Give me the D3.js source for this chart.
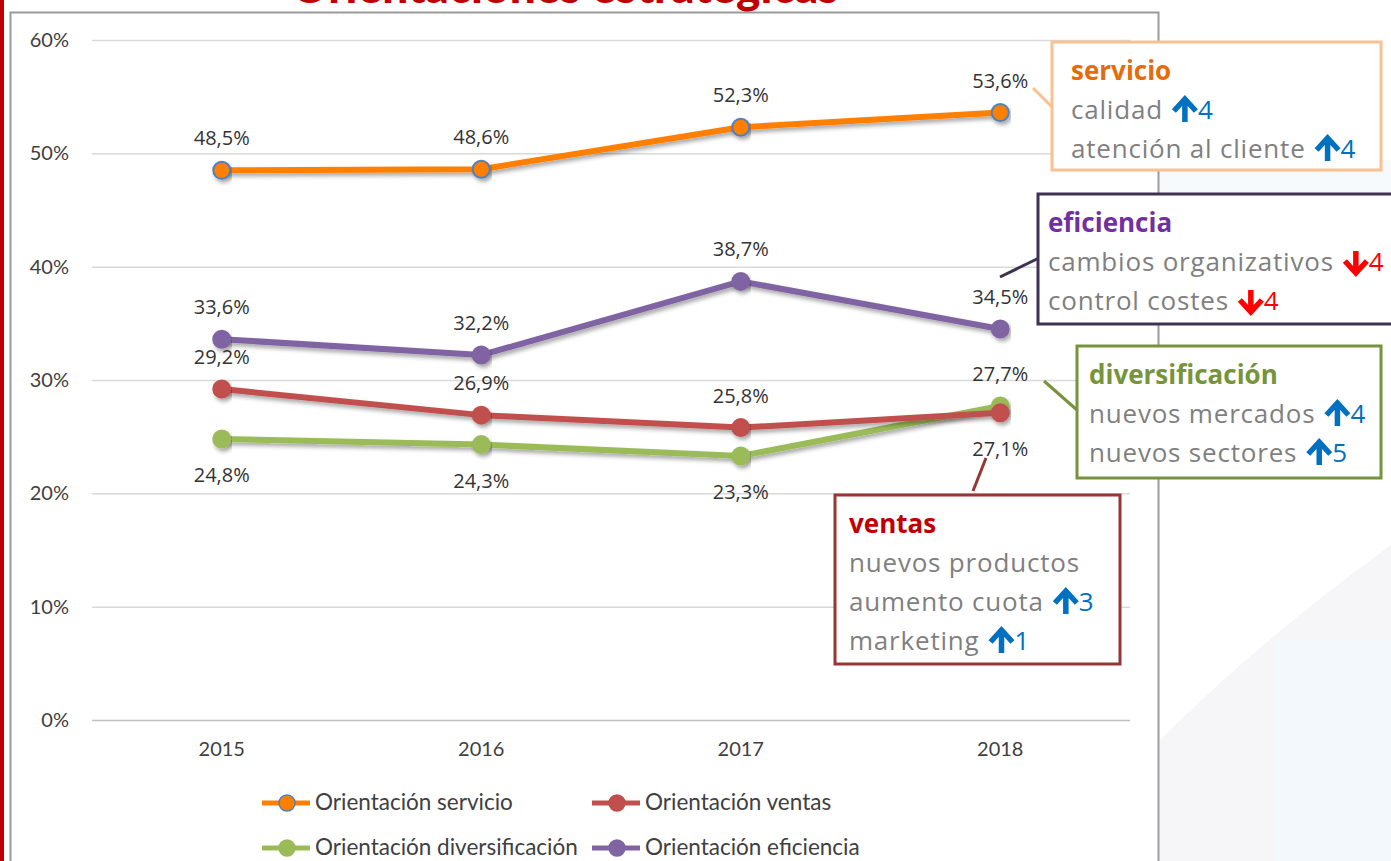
<!DOCTYPE html>
<html>
<head>
<meta charset="utf-8">
<script src="https://cdn.jsdelivr.net/npm/d3@7"></script>
<style>
  html, body { margin: 0; padding: 0; background: #fff; overflow: hidden; }
  svg { display: block; font-family: Lato, "Open Sans", sans-serif; }
</style>
</head>
<body>
<script>
const years = ["2015", "2016", "2017", "2018"];
const servicio = [48.5, 48.6, 52.3, 53.6];
const ventas = [29.2, 26.9, 25.8, 27.1];
const diversificacion = [24.8, 24.3, 23.3, 27.7];
const eficiencia = [33.6, 32.2, 38.7, 34.5];
const yTicks = [0, 10, 20, 30, 40, 50, 60];

// label side per point: -1 above, +1 below
const series = [
  {name: "Orientación servicio", values: servicio, color: "#FF8000", stroke: "#4F81BD", side: [-1, -1, -1, -1]},
  {name: "Orientación ventas", values: ventas, color: "#C0504D", stroke: "#C0504D", side: [-1, -1, -1, 1]},
  {name: "Orientación diversificación", values: diversificacion, color: "#9BBB59", stroke: "#9BBB59", side: [1, 1, 1, -1]},
  {name: "Orientación eficiencia", values: eficiencia, color: "#8064A2", stroke: "#8064A2", side: [-1, -1, -1, -1]}
];
const drawOrder = [2, 1, 3, 0];

const callouts = [
  {title: "servicio", titleColor: "#E46C0A", border: "#FAC090", box: [1052, 42, 329, 128], pad: 19,
   lines: [["calidad", "up", "4"], ["atención al cliente", "up", "4"]], leader: [1033, 88, 1053, 108]},
  {title: "eficiencia", titleColor: "#7030A0", border: "#3F3151", box: [1038, 194, 360, 130], pad: 10,
   lines: [["cambios organizativos", "down", "4"], ["control costes", "down", "4"]], leader: [1000, 277, 1039, 258]},
  {title: "diversificación", titleColor: "#77933C", border: "#77933C", box: [1077, 346, 304, 132], pad: 12,
   lines: [["nuevos mercados", "up", "4"], ["nuevos sectores", "up", "5"]], leader: [1044, 381, 1077, 410]},
  {title: "ventas", titleColor: "#C00000", border: "#953735", box: [835, 495, 285, 169], pad: 14,
   lines: [["nuevos productos", null, ""], ["aumento cuota", "up", "3"], ["marketing", "up", "1"]], leader: [986, 458, 973, 491]}
];

const W = 1391, H = 861;
const svg = d3.select("body").append("svg").attr("width", W).attr("height", H);

const defs = svg.append("defs");
defs.append("filter").attr("id", "shadow").attr("x", "-10%").attr("y", "-50%").attr("width", "120%").attr("height", "200%")
  .append("feDropShadow").attr("dx", 2).attr("dy", 3).attr("stdDeviation", 2)
  .attr("flood-color", "#000").attr("flood-opacity", 0.35);

// very faint slide background on the right
const bg = svg.append("g");
bg.append("path").attr("d", "M1160,290 Q1280,330 1391,290 L1391,160 L1160,160 Z").attr("fill", "#F6FAFD");
bg.append("path").attr("d", "M1160,740 Q1260,640 1391,545 L1391,861 L1160,861 Z").attr("fill", "#F6F5F8");
bg.append("rect").attr("x", 1275).attr("y", 640).attr("width", 116).attr("height", 221).attr("fill", "#F3F8FC");

// red slide edge and chart frame
svg.append("rect").attr("x", 0).attr("y", 0).attr("width", 4).attr("height", H).attr("fill", "#C00000");
svg.append("rect").attr("x", 10.5).attr("y", 12.5).attr("width", 1148).attr("height", H + 20)
  .attr("fill", "#fff").attr("stroke", "#9A9A9A").attr("stroke-width", 2);

// title, cut off at the top as in the slide
svg.append("text").attr("x", 565).attr("y", 3).attr("text-anchor", "middle")
  .attr("font-size", 46).attr("font-weight", 900).attr("fill", "#C00000")
  .text("Orientaciones estratégicas");

// scales
const x = d3.scaleBand().domain(years).range([92, 1130]);
const y = d3.scaleLinear().domain([0, 60]).range([720, 40]);
const cx = d => x(d) + x.bandwidth() / 2;

// grid
svg.append("g").selectAll("line").data(yTicks).join("line")
  .attr("x1", 92).attr("x2", 1130).attr("y1", d => y(d) + 0.5).attr("y2", d => y(d) + 0.5)
  .attr("stroke", d => d === 0 ? "#BFBFBF" : "#D9D9D9").attr("stroke-width", 1.5);

// axes
const yAxis = svg.append("g").attr("transform", "translate(69,0)")
  .call(d3.axisLeft(y).tickValues(yTicks).tickSize(0).tickPadding(0).tickFormat(d => d + "%"));
yAxis.select(".domain").remove();
yAxis.selectAll("text").attr("font-size", 20).attr("fill", "#404040").attr("font-family", "Lato, sans-serif");

const xAxis = svg.append("g").attr("transform", "translate(0,742)")
  .call(d3.axisBottom(x).tickSize(0).tickPadding(0));
xAxis.select(".domain").remove();
xAxis.selectAll("text").attr("dy", "0.71em").attr("font-size", 20).attr("fill", "#404040").attr("font-family", "Lato, sans-serif");

// lines
const line = d3.line().x((d, i) => cx(years[i])).y(d => y(d));
drawOrder.forEach(k => {
  const s = series[k];
  const g = svg.append("g");
  g.append("path").datum(s.values).attr("d", line).attr("fill", "none")
    .attr("stroke", s.color).attr("stroke-width", 6).attr("stroke-linejoin", "round")
    .attr("filter", "url(#shadow)");
  g.selectAll("circle").data(s.values).join("circle")
    .attr("cx", (d, i) => cx(years[i])).attr("cy", d => y(d)).attr("r", 8.5)
    .attr("fill", s.color).attr("stroke", s.stroke).attr("stroke-width", 2)
    .attr("filter", "url(#shadow)");
});

// data labels
series.forEach(s => {
  svg.append("g").selectAll("text").data(s.values).join("text")
    .attr("x", (d, i) => cx(years[i]))
    .attr("y", (d, i) => y(d) + (s.side[i] < 0 ? -25 : 43))
    .attr("text-anchor", "middle").attr("font-size", 20).attr("fill", "#333")
    .attr("font-family", "'Open Sans', sans-serif")
    .text(d => d3.format(".1f")(d).replace(".", ",") + "%");
});

// arrow glyph drawn as a path, baseline at ay
function arrow(g, ax, ay, dir, col) {
  const p = dir === "up"
    ? `M${ax},${ay + 3} L${ax},${ay - 18} M${ax - 11},${ay - 8} L${ax},${ay - 20} L${ax + 11},${ay - 8}`
    : `M${ax},${ay - 20} L${ax},${ay} M${ax - 11},${ay - 10} L${ax},${ay + 2} L${ax + 11},${ay - 10}`;
  g.append("path").attr("d", p).attr("fill", "none").attr("stroke", col)
    .attr("stroke-width", 5.5).attr("stroke-linejoin", "miter");
}

// callouts
callouts.forEach(c => {
  const g = svg.append("g").attr("font-family", "'Open Sans', sans-serif");
  const [bx, by, bw, bh] = c.box;
  const [lx1, ly1, lx2, ly2] = c.leader;
  g.append("line").attr("x1", lx1).attr("y1", ly1).attr("x2", lx2).attr("y2", ly2)
    .attr("stroke", c.border).attr("stroke-width", 3);
  g.append("rect").attr("x", bx).attr("y", by).attr("width", bw).attr("height", bh)
    .attr("fill", "#fff").attr("stroke", c.border).attr("stroke-width", 3);
  g.append("text").attr("x", bx + c.pad).attr("y", by + 38).attr("font-size", 26).attr("font-weight", 700)
    .attr("fill", c.titleColor).text(c.title);
  c.lines.forEach((l, i) => {
    const ty = by + 77 + i * 39;
    const t = g.append("text").attr("x", bx + c.pad).attr("y", ty).attr("font-size", 26)
      .attr("letter-spacing", 0.8).attr("fill", "#7F7F7F").text(l[0]);
    if (l[1]) {
      const col = l[1] === "up" ? "#0070C0" : "#FF0000";
      const end = bx + c.pad + t.node().getComputedTextLength();
      arrow(g, end + 22, ty, l[1], col);
      g.append("text").attr("x", end + 35).attr("y", ty).attr("font-size", 26)
        .attr("fill", col).text(l[2]);
    }
  });
});

// legend
const legendPos = [[262, 803], [592, 803], [262, 848], [592, 848]];
series.forEach((s, i) => {
  const [lx, ly] = legendPos[i];
  const g = svg.append("g").attr("transform", `translate(${lx},${ly})`);
  g.append("line").attr("x1", 0).attr("x2", 48).attr("stroke", s.color).attr("stroke-width", 5);
  g.append("circle").attr("cx", 25).attr("r", 8).attr("fill", s.color).attr("stroke", s.stroke).attr("stroke-width", 1.5);
  g.append("text").attr("x", 53).attr("dy", "0.32em").attr("font-size", 22.5).attr("fill", "#404040").text(s.name);
});
</script>
</body>
</html>
